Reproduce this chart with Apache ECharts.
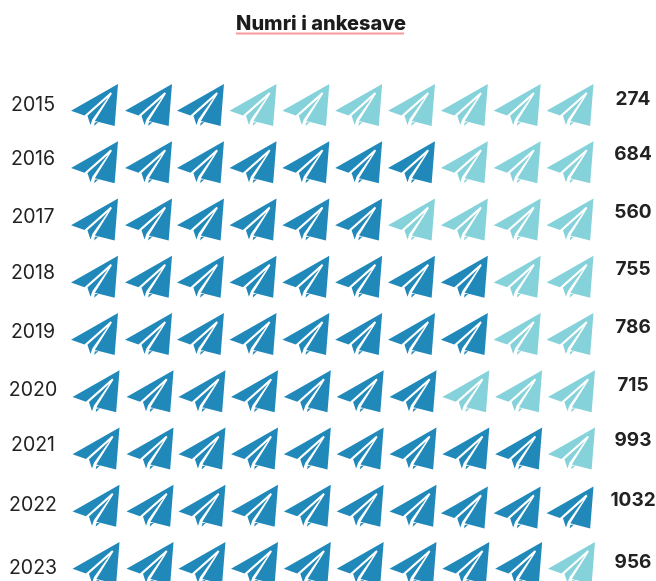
<!DOCTYPE html>
<html>
<head>
<meta charset="utf-8">
<style>html,body{margin:0;padding:0;background:#fff}#chart{width:656px;height:581px}</style>
<script src="https://cdn.jsdelivr.net/npm/echarts@6/dist/echarts.min.js"></script>
</head>
<body>
<div id="chart"></div>
<script>
// Appeals per year, one row of ten paper planes each
const years = ['2015','2016','2017','2018','2019','2020','2021','2022','2023'];
const appeals = [274,684,560,755,786,715,993,1032,956];
const filledPlanes = [3,7,6,8,8,7,9,10,9];
const planeSlots = [0,1,2,3,4,5,6,7,8,9];

// Hand-set nudges, in pixels
const yearNudge = [0,-3,-2.5,-4,-2,-1.5,-3,-1,5.5];
const totalNudge = [-6,-8,-7.5,-7,-7,-6,-8.5,-5.5,-0.5];
const rowShift = [0,0,0,0,0,1.5,1.5,1.5,1.5];
const slotShift = [0,1.2,0.3,0,0,0,0,0,0,0];

// Wing body with the fold notched out, the centre strip with its tail, and the small barb
const planePath = 'path://M213,107 L353,28 L343,152 L284,137 L335,56 L331,52 L253,121 Z ' +
  'M323,68 L262,122 L271,149 L277,132 Z ' +
  'M284,142 L295,140 L282,152 Z';

const DARK = '#2189b9', LIGHT = '#86d2da';

function planeCells(filled) {
  const cells = [];
  years.forEach((y, r) => planeSlots.forEach(c => {
    if ((c < filledPlanes[r]) === filled) {
      // The last three planes of 2022 sit a little lower and further left
      const shifted = y === '2022' && c >= 7;
      cells.push({
        value: [c, y],
        symbolOffset: shifted ? [slotShift[c], 1.7] : [rowShift[r] + slotShift[c], 0]
      });
    }
  }));
  return cells;
}

function planeSeries(filled) {
  return {
    type: 'scatter',
    data: planeCells(filled),
    symbol: planePath,
    symbolSize: [47, 42],
    itemStyle: { color: filled ? DARK : LIGHT, opacity: 1 },
    silent: true
  };
}

const chart = echarts.init(document.getElementById('chart'));
chart.setOption({
  animation: false,
  backgroundColor: '#fff',
  title: {
    text: 'Numri i ankesave',
    left: 316,
    top: 9,
    textAlign: 'center',
    textStyle: { fontFamily: 'Inter', fontWeight: 800, fontSize: 20, color: '#1c1c1c' }
  },
  graphic: [{
    type: 'line',
    shape: { x1: 236, y1: 33.5, x2: 404, y2: 33.5 },
    style: { stroke: '#f79aa0', lineWidth: 2 }
  }],
  grid: { left: 94.5, width: 475.5, top: 105, height: 458 },
  xAxis: { type: 'value', min: 0, max: 9, show: false },
  yAxis: { type: 'category', data: years, inverse: true, boundaryGap: false, show: false },
  series: [
    planeSeries(true),
    planeSeries(false),
    {
      type: 'scatter',
      symbolSize: 0,
      silent: true,
      clip: false,
      itemStyle: { opacity: 1 },
      data: years.map((y, i) => ({
        value: [0, y],
        label: {
          show: true,
          position: 'inside',
          formatter: y,
          offset: [33 - 94.5, yearNudge[i]],
          fontFamily: 'Inter',
          fontWeight: 400,
          fontSize: 19.5,
          color: '#222'
        }
      }))
    },
    {
      type: 'scatter',
      symbolSize: 0,
      silent: true,
      clip: false,
      itemStyle: { opacity: 1 },
      data: years.map((y, i) => ({
        value: [9, y],
        label: {
          show: true,
          position: 'inside',
          formatter: String(appeals[i]),
          offset: [633 - 570, totalNudge[i]],
          fontFamily: 'Inter',
          fontWeight: 700,
          fontSize: 19,
          color: '#222'
        }
      }))
    }
  ]
});
</script>
</body>
</html>
